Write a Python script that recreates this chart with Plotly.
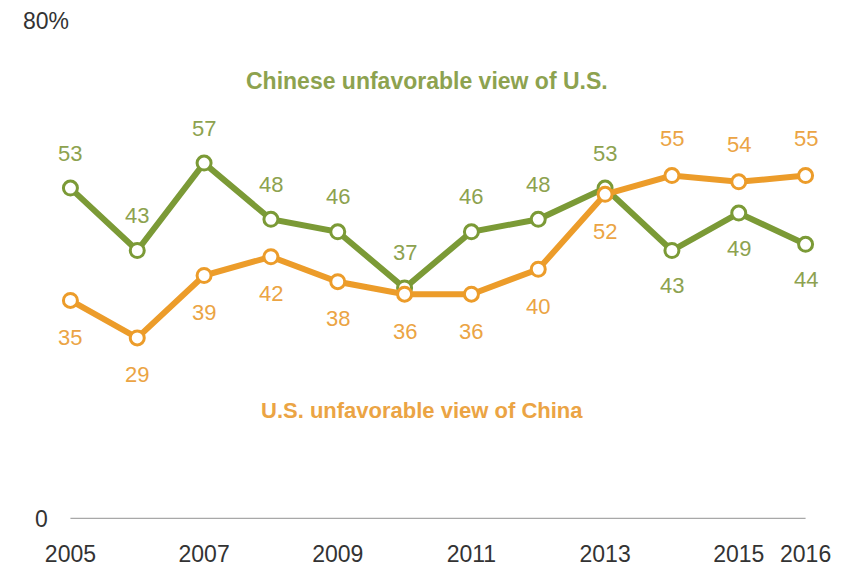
import plotly.graph_objects as go

years = [2005, 2006, 2007, 2008, 2009, 2010, 2011, 2012, 2013, 2014, 2015, 2016]
china_view_us = [53, 43, 57, 48, 46, 37, 46, 48, 53, 43, 49, 44]
us_view_china = [35, 29, 39, 42, 38, 36, 36, 40, 52, 55, 54, 55]
year_ticks = [2005, 2007, 2009, 2011, 2013, 2015, 2016]
green_label_side = [1, 1, 1, 1, 1, 1, 1, 1, 1, -1, -1, -1]
orange_label_side = [-1, -1, -1, -1, -1, -1, -1, -1, -1, 1, 1, 1]

GREEN = "#7b9a36"
GREEN_TXT = "#8da24f"
ORANGE = "#ec9c2a"
ORANGE_TXT = "#eba444"
NUM_FONT = "Liberation Sans, Arial, sans-serif"
NARROW = "Liberation Sans Narrow, Arial Narrow, Liberation Sans, sans-serif"

fig = go.Figure()
fig.add_shape(type="line", x0=2005, x1=2016, y0=0, y1=0, xref="x", yref="y",
              line=dict(color="#a8a8a8", width=2.5), layer="below")

for vals, col in [(china_view_us, GREEN), (us_view_china, ORANGE)]:
    fig.add_trace(go.Scatter(
        x=years, y=vals, mode="lines+markers", cliponaxis=False,
        line=dict(color=col, width=6),
        marker=dict(size=14, color="white", line=dict(color=col, width=3)),
        hoverinfo="skip", showlegend=False))

annotations = []
for x, v, s in zip(years, china_view_us, green_label_side):
    annotations.append(dict(x=x, y=v, text=str(v), showarrow=False, yshift=35 * s,
                            font=dict(family=NUM_FONT, size=22, color=GREEN_TXT)))
for x, v, s in zip(years, us_view_china, orange_label_side):
    annotations.append(dict(x=x, y=v, text=str(v), showarrow=False, yshift=37 * s,
                            font=dict(family=NUM_FONT, size=22, color=ORANGE_TXT)))

annotations.append(dict(x=0.4865, y=(569 - 81 - 49.5) / 512.5, xref="paper", yref="paper",
                        yanchor="middle", xanchor="center",
                        text="<b>Chinese unfavorable view of U.S.</b>", showarrow=False,
                        font=dict(family=NARROW, size=23, color=GREEN_TXT)))
annotations.append(dict(x=0.480, y=(569 - 411 - 49.5) / 512.5, xref="paper", yref="paper",
                        yanchor="middle", xanchor="center",
                        text="<b>U.S. unfavorable view of China</b>", showarrow=False,
                        font=dict(family=NARROW, size=22, color=ORANGE_TXT)))
annotations.append(dict(x=-0.0205, y=80, xref="paper", yref="y", xanchor="left",
                        text="80%", showarrow=False, yshift=-2,
                        font=dict(family=NUM_FONT, size=23, color="#333333")))
annotations.append(dict(x=-0.0050, y=0, xref="paper", yref="y", xanchor="left",
                        text="0", showarrow=False,
                        font=dict(family=NUM_FONT, size=23, color="#333333")))

fig.update_layout(
    width=861, height=569,
    margin=dict(l=36.5, r=21.5, t=7, b=49.5, autoexpand=False),
    paper_bgcolor="white", plot_bgcolor="white",
    xaxis=dict(range=[2004.5, 2016.5], tickvals=year_ticks, automargin=False,
               ticktext=[str(y) for y in year_ticks], showgrid=False,
               zeroline=False, showline=False, ticks="",
               ticklabelstandoff=19,
               tickfont=dict(family=NUM_FONT, size=23, color="#333333")),
    yaxis=dict(range=[0, 82], showgrid=False, zeroline=False, showline=False,
               showticklabels=False, ticks="", automargin=False),
    annotations=annotations,
)

fig.write_html("out.html")
